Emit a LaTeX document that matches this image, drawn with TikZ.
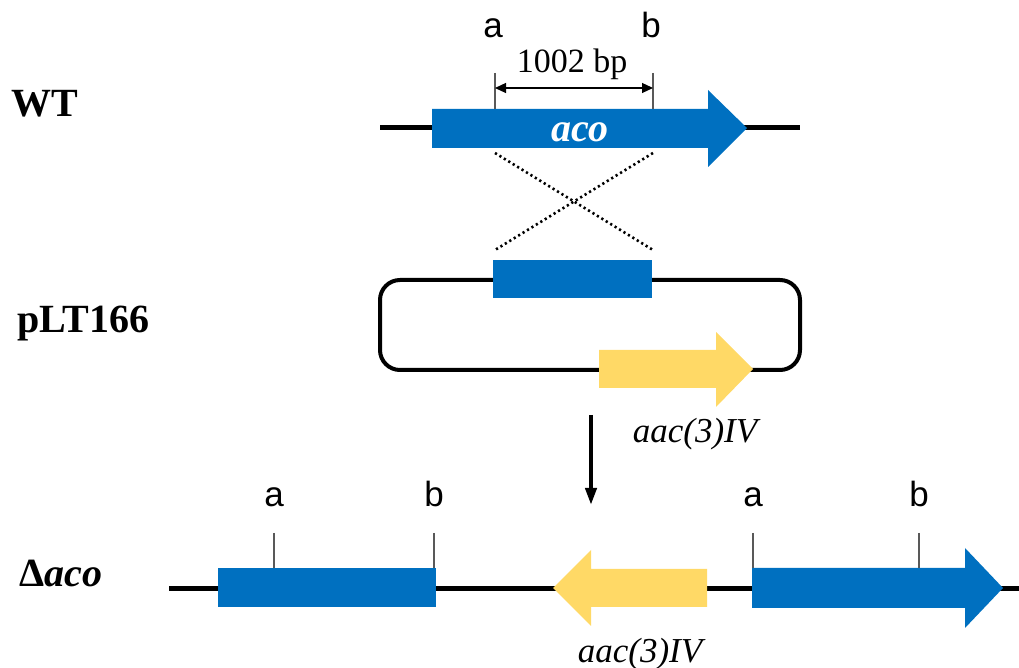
\documentclass[tikz,border=0pt]{standalone}
\usepackage{fontspec}
\setmainfont{Liberation Serif}
\newfontfamily\sitefont{Liberation Sans}
\usetikzlibrary{arrows.meta}
\definecolor{geneblue}{HTML}{0070C0}
\definecolor{geneyellow}{HTML}{FFD966}
\definecolor{tickgray}{HTML}{595959}

\begin{document}
\begin{tikzpicture}[x=0.5pt,y=-0.5pt,
  dna/.style={line width=2.5pt},
  sitetick/.style={draw=tickgray,line width=1pt},
  crossover/.style={line width=1.3pt,dash pattern=on 1.1pt off 1.5pt},
  sitelbl/.style={font=\sitefont\fontsize{17.5}{21}\selectfont,anchor=base,inner sep=0pt},
  strainlbl/.style={font=\bfseries\fontsize{20}{24}\selectfont,anchor=base west,inner sep=0pt},
  genelbl/.style={font=\itshape\fontsize{17.5}{21}\selectfont,anchor=base,inner sep=0pt}]

\useasboundingbox (0,0) rectangle (1019,668);

% strain names
\node[strainlbl] (wt)   at (11,117) {WT};
\node[strainlbl] (plt)  at (17,333) {pLT166};
\node[strainlbl] (daco) at (19,587) {Δ\textit{aco}};

% wild type locus
\draw[dna] (380,128) -- (800,128);
\fill[geneblue] (432,109) -- (708,109) -- (708,90) -- (747,128) -- (708,167) -- (708,148) -- (432,148) -- cycle;
\node[font=\bfseries\itshape\fontsize{20}{24}\selectfont,text=white,anchor=base,inner sep=0pt] (aco) at (580,142) {aco};

\draw[sitetick] (495,73) -- (495,109);
\draw[sitetick] (653,73) -- (653,109);
\coordinate (ta) at (495,88);
\coordinate (tb) at (653,88);
\draw[{Triangle[length=5.5pt,width=5pt]}-{Triangle[length=5.5pt,width=5pt]},line width=0.6pt] (ta) -- (tb);
\node[font=\fontsize{17}{20}\selectfont,anchor=base,inner sep=0pt] (len) at (572,73) {1002 bp};
\node[sitelbl] (a1) at (493,38) {a};
\node[sitelbl] (b1) at (651,38) {b};

% crossover
\coordinate (xa1) at (495,153);
\coordinate (xb1) at (653,153);
\coordinate (xa2) at (495,250);
\coordinate (xb2) at (653,250);
\draw[crossover] (xa1) -- (xb2);
\draw[crossover] (xb1) -- (xa2);

% plasmid
\draw[line width=2pt,rounded corners=10pt] (380,280) rectangle (800,370);
\fill[geneblue] (493,260) rectangle (652,298);
\fill[geneyellow] (599,350) -- (716,350) -- (716,332) -- (753,369) -- (716,407) -- (716,388) -- (599,388) -- cycle;
\node[genelbl] (res1) at (695,443) {aac(3)IV};

\coordinate (dtop) at (591,415);
\coordinate (dbot) at (591,505);
\draw[-{Triangle[length=8.5pt,width=5.5pt]},line width=2pt] (dtop) -- (dbot);

% deletion mutant
\draw[dna] (169,589) -- (1019,589);
\fill[geneblue] (218,568) rectangle (436,607);
\fill[geneyellow] (707,569) -- (591,569) -- (591,550) -- (553,588) -- (591,626) -- (591,607) -- (707,607) -- cycle;
\fill[geneblue] (752,568) -- (965,568) -- (965,548) -- (1003,588) -- (965,628) -- (965,608) -- (752,608) -- cycle;

\draw[sitetick] (274,533) -- (274,568);
\draw[sitetick] (434,533) -- (434,568);
\draw[sitetick] (753,533) -- (753,568);
\draw[sitetick] (919,533) -- (919,568);
\node[sitelbl] (a2) at (274,507) {a};
\node[sitelbl] (b2) at (434,507) {b};
\node[sitelbl] (a3) at (753,507) {a};
\node[sitelbl] (b3) at (919,507) {b};
\node[genelbl] (res2) at (640,662) {aac(3)IV};
\end{tikzpicture}
\end{document}
